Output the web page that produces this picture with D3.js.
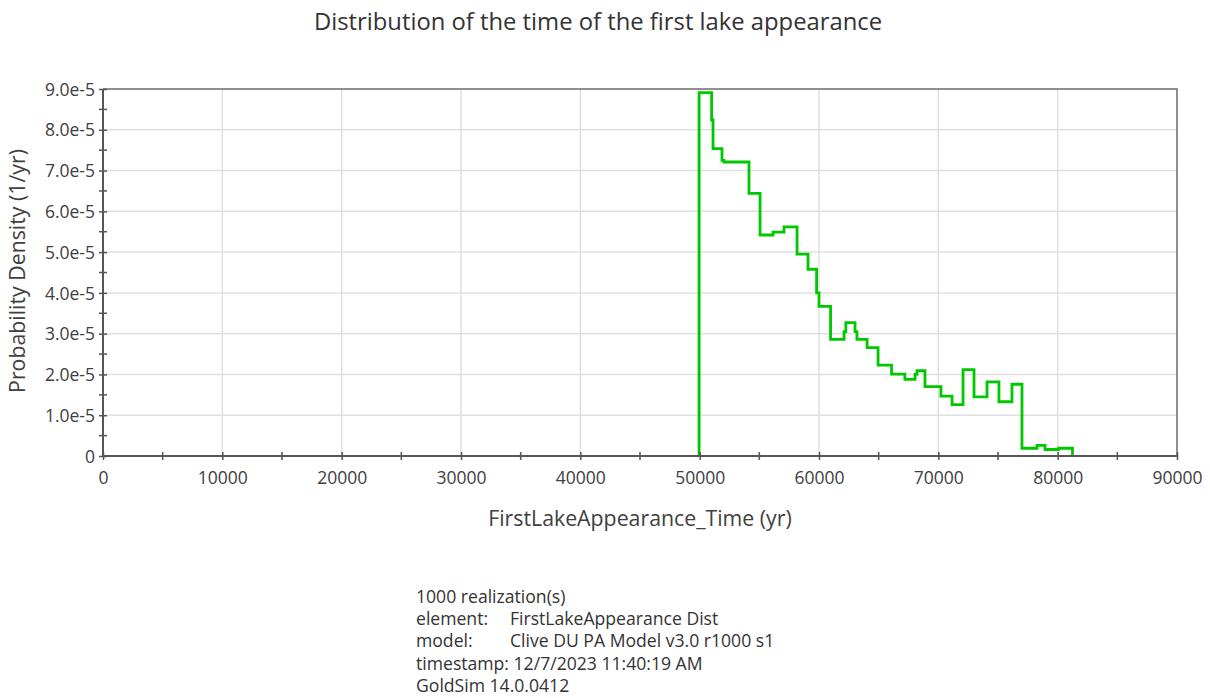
<!DOCTYPE html>
<html>
<head>
<meta charset="utf-8">
<script src="https://cdn.jsdelivr.net/npm/d3@7"></script>
<style>
  body { margin: 0; background: #fff; }
  svg { display: block; font-family: "Open Sans", sans-serif; }
</style>
</head>
<body>
<div id="chart"></div>
<script>
// step start times (yr) and density levels (x 1e-5 per yr)
const stepTime = [49950, 49950, 51000, 51120, 51870, 52040, 54135, 55060, 56150, 57070, 58160, 59080,
  59800, 60000, 60970, 62100, 62250, 63020, 63180, 64030, 64950, 66080, 67200, 68050, 68210, 68880,
  70220, 71150, 72070, 72990, 74080, 75080, 76170, 77010, 78270, 78940, 80070, 81240];
const stepDensity = [0, 8.91, 8.24, 7.54, 7.25, 7.21, 6.44, 5.42, 5.49, 5.62, 4.95, 4.58,
  4.0, 3.67, 2.86, 3.05, 3.27, 3.05, 2.86, 2.66, 2.23, 2.01, 1.88, 2.0, 2.09, 1.70,
  1.47, 1.26, 2.12, 1.45, 1.82, 1.33, 1.76, 0.19, 0.26, 0.16, 0.19, 0];

const xTicks = [0, 10000, 20000, 30000, 40000, 50000, 60000, 70000, 80000, 90000];
const xMinorTicks = [5000, 15000, 25000, 35000, 45000, 55000, 65000, 75000, 85000];
const yTicks = [0, 1e-5, 2e-5, 3e-5, 4e-5, 5e-5, 6e-5, 7e-5, 8e-5, 9e-5];
const yMinorTicks = [0.5e-5, 1.5e-5, 2.5e-5, 3.5e-5, 4.5e-5, 5.5e-5, 6.5e-5, 7.5e-5, 8.5e-5];

const footerLines = [
  ["1000 realization(s)", ""],
  ["element:", "FirstLakeAppearance Dist"],
  ["model:", "Clive DU PA Model v3.0 r1000 s1"],
  ["timestamp: 12/7/2023 11:40:19 AM", ""],
  ["GoldSim 14.0.0412", ""]
];

const width = 1210, height = 698;
const margin = {left: 103, top: 89, right: 1210 - 1177, bottom: 698 - 456};
const innerW = width - margin.left - margin.right;
const innerH = height - margin.top - margin.bottom;

const svg = d3.select('#chart').append('svg')
    .attr('width', width)
    .attr('height', height);

const x = d3.scaleLinear().domain([0, 90000]).range([0, innerW]);
const y = d3.scaleLinear().domain([0, 9e-5]).range([innerH, 0]);

const g = svg.append('g').attr('transform', `translate(${margin.left},${margin.top})`);

// grid
g.append('g').selectAll('line').data(xTicks.slice(1, -1)).enter().append('line')
    .attr('x1', d => x(d)).attr('x2', d => x(d))
    .attr('y1', 0).attr('y2', innerH)
    .attr('stroke', '#e0e0e0').attr('stroke-width', 1.5);
g.append('g').selectAll('line').data(yTicks.slice(1, -1)).enter().append('line')
    .attr('x1', 0).attr('x2', innerW)
    .attr('y1', d => y(d)).attr('y2', d => y(d))
    .attr('stroke', '#e0e0e0').attr('stroke-width', 1.5);

// frame top / right
g.append('path')
    .attr('d', `M0,0H${innerW}V${innerH}`)
    .attr('fill', 'none').attr('stroke', '#6b6b6b').attr('stroke-width', 1.5);

// data line
const line = d3.line()
    .x((d, i) => x(stepTime[i]))
    .y(d => y(d * 1e-5))
    .curve(d3.curveStepAfter);

g.append('path')
    .datum(stepDensity)
    .attr('d', line)
    .attr('fill', 'none')
    .attr('stroke', '#00c800')
    .attr('stroke-width', 2.8);

// axes
const yFmt = d => d === 0 ? '0' : d3.format('.1e')(d);
const yAxis = g.append('g')
    .call(d3.axisLeft(y).tickValues(yTicks).tickFormat(yFmt).tickSize(4).tickPadding(4));
yAxis.select('.domain').remove();
yAxis.selectAll('.tick line').attr('x1', 4);
g.append('g').selectAll('line').data(yMinorTicks).enter().append('line')
    .attr('x1', -4).attr('x2', 4)
    .attr('y1', d => y(d)).attr('y2', d => y(d));

const xAxis = g.append('g')
    .attr('transform', `translate(0,${innerH})`)
    .call(d3.axisBottom(x).tickValues(xTicks).tickFormat(d3.format('d')).tickSize(4).tickPadding(12));
xAxis.select('.domain').remove();
xAxis.selectAll('.tick line').attr('y1', -4);
g.append('g').attr('transform', `translate(0,${innerH})`)
    .selectAll('line').data(xMinorTicks).enter().append('line')
    .attr('x1', d => x(d)).attr('x2', d => x(d))
    .attr('y1', -4).attr('y2', 4);

g.selectAll('line:not([stroke])').attr('stroke', '#555').attr('stroke-width', 1.5);
g.selectAll('.tick line').attr('stroke', '#555').attr('stroke-width', 1.5);

g.append('path')
    .attr('d', `M0,0V${innerH}H${innerW}`)
    .attr('fill', 'none').attr('stroke', '#555').attr('stroke-width', 2);

g.selectAll('.tick text')
    .attr('font-family', '"Open Sans", sans-serif')
    .attr('font-size', 17.5)
    .attr('fill', '#404040');
yAxis.selectAll('.tick text').attr('dy', '0.35em');

// titles
svg.append('text')
    .attr('x', 598).attr('y', 30)
    .attr('text-anchor', 'middle')
    .attr('font-size', 23.8)
    .attr('fill', '#333')
    .text('Distribution of the time of the first lake appearance');

svg.append('text')
    .attr('x', 640).attr('y', 526)
    .attr('text-anchor', 'middle')
    .attr('font-size', 21.3)
    .attr('fill', '#404040')
    .text('FirstLakeAppearance_Time (yr)');

svg.append('text')
    .attr('transform', 'translate(25,271) rotate(-90)')
    .attr('text-anchor', 'middle')
    .attr('font-size', 21.3)
    .attr('fill', '#404040')
    .text('Probability Density (1/yr)');

// footer
const footer = svg.append('g').attr('font-size', 17.6).attr('fill', '#333');
footerLines.forEach((l, i) => {
  const t = footer.append('text').attr('y', 603 + i * 22.2);
  t.append('tspan').attr('x', 416).text(l[0]);
  if (l[1]) t.append('tspan').attr('x', 510).text(l[1]);
});
</script>
</body>
</html>
